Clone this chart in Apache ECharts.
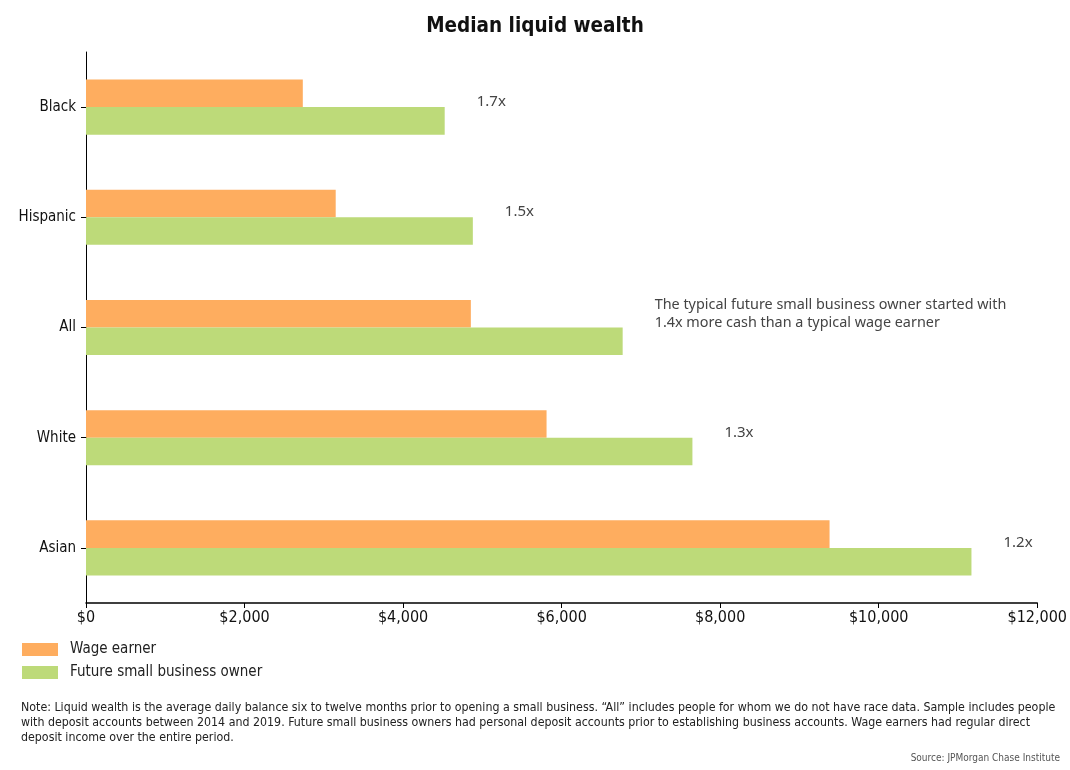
<!DOCTYPE html>
<html><head><meta charset="utf-8">
<script src="https://cdn.jsdelivr.net/npm/echarts@6/dist/echarts.min.js"></script>
<style>html,body{margin:0;padding:0;background:#fff}#c{width:1070px;height:770px}</style>
</head><body><div id="c"></div>
<script>
var categories = ['Black', 'Hispanic', 'All', 'White', 'Asian'];
var wageEarner = [2735, 3150, 4855, 5810, 9380];
var futureOwner = [4525, 4880, 6770, 7650, 11170];
var ratioLabels = ['1.7x', '1.5x', 'The typical future small business owner started with\n1.4x more cash than a typical wage earner', '1.3x', '1.2x'];
var xTicks = { min: 0, max: 12000, interval: 2000 };

var condensed = '"Liberation Sans Narrow", "DejaVu Sans Condensed", sans-serif';
var chart = echarts.init(document.getElementById('c'));
var greenData = futureOwner.map(function (v, i) {
  var multi = ratioLabels[i].indexOf('\n') >= 0;
  return {
    value: v,
    label: {
      show: true, position: 'right', distance: 32,
      formatter: ratioLabels[i],
      color: '#444', fontSize: multi ? 14.4 : 15, lineHeight: 18,
      fontFamily: '"Noto Sans", sans-serif',
      offset: multi ? [0, -27] : [0, -19]
    }
  };
});
chart.setOption({
  animation: false,
  title: {
    text: 'Median liquid wealth', left: 'center', top: 11,
    textStyle: { fontSize: 20.5, fontWeight: 'bold', color: '#111', fontFamily: condensed }
  },
  legend: {
    orient: 'vertical', left: 17, top: 637, itemWidth: 36, itemHeight: 13, itemGap: 8,
    icon: 'rect',
    textStyle: { fontSize: 15, color: '#222', fontFamily: condensed, padding: [0, 0, 0, 7] },
    data: ['Wage earner', 'Future small business owner']
  },
  grid: { left: 86, right: 32, top: 52, bottom: 167 },
  xAxis: {
    type: 'value', min: xTicks.min, max: xTicks.max, interval: xTicks.interval,
    axisLine: { show: true, lineStyle: { color: '#000', width: 1.5 } },
    axisTick: { show: true, length: 5, lineStyle: { color: '#000' } },
    splitLine: { show: false },
    axisLabel: {
      fontSize: 16, color: '#111', fontFamily: condensed, margin: 7,
      formatter: function (v) { return '$' + v.toLocaleString('en-US'); }
    }
  },
  yAxis: {
    type: 'category', data: categories, inverse: true,
    axisLine: { show: true, lineStyle: { color: '#000', width: 1 } },
    axisTick: { show: true, length: 5, alignWithLabel: true, lineStyle: { color: '#000' } },
    axisLabel: { fontSize: 15, color: '#111', fontFamily: condensed, margin: 10 }
  },
  series: [
    { name: 'Wage earner', type: 'bar', data: wageEarner, barGap: '0%', barCategoryGap: '50%',
      itemStyle: { color: '#FEAD5F' } },
    { name: 'Future small business owner', type: 'bar', data: greenData, barGap: '0%', barCategoryGap: '50%',
      itemStyle: { color: '#BDDA79' } }
  ],
  graphic: [
    { type: 'text', left: 21, top: 700, style: {
      text: 'Note: Liquid wealth is the average daily balance six to twelve months prior to opening a small business. \u201cAll\u201d includes people for whom we do not have race data. Sample includes people\nwith deposit accounts between 2014 and 2019. Future small business owners had personal deposit accounts prior to establishing business accounts. Wage earners had regular direct\ndeposit income over the entire period.',
      fontSize: 12.3, lineHeight: 15, fill: '#222', fontFamily: condensed } },
    { type: 'text', right: 10, top: 753, style: {
      text: 'Source: JPMorgan Chase Institute', fontSize: 10, fill: '#555', fontFamily: condensed } }
  ]
});
</script></body></html>
